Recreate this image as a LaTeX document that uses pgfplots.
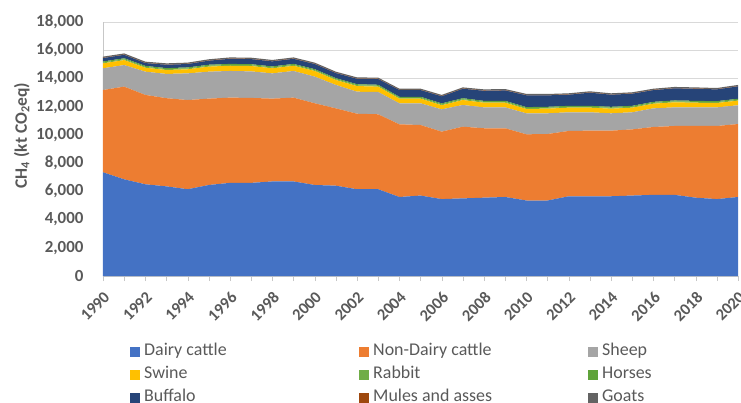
\documentclass[border=0pt]{standalone}
\usepackage{fontspec}
\setmainfont{Carlito}
\usepackage{pgfplots}
\usepackage{pgfplotstable}
\pgfplotsset{compat=1.18}
\usetikzlibrary{calc}
\definecolor{cDairy}{HTML}{4472C4}
\definecolor{cNonDairy}{HTML}{ED7D31}
\definecolor{cSheep}{HTML}{A5A5A5}
\definecolor{cSwine}{HTML}{FFC000}
\definecolor{cRabbit}{HTML}{70AD47}
\definecolor{cHorses}{HTML}{5FA33A}
\definecolor{cBuffalo}{HTML}{264478}
\definecolor{cMules}{HTML}{9E480E}
\definecolor{cGoats}{HTML}{636363}
\definecolor{txtgray}{HTML}{595959}
\definecolor{gridgray}{HTML}{D9D9D9}

% CH4 emissions by livestock category, kt CO2eq
\pgfplotstableread{
year dairy nondairy sheep swine rabbit horses buffalo mules goats
1990 7350 5830 1540 350 60 70 245 20 80
1991 6850 6570 1530 350 60 70 243 20 80
1992 6500 6330 1650 280 60 70 200 20 80
1993 6350 6250 1720 280 60 70 240 20 80
1994 6150 6320 1890 290 60 70 242 20 80
1995 6450 6120 1910 360 60 70 289 20 80
1996 6600 6040 1890 370 60 70 360 20 80
1997 6600 6020 1880 380 60 70 360 20 80
1998 6700 5870 1790 360 60 70 360 20 80
1999 6700 5940 1890 370 60 70 360 20 80
2000 6450 5790 1890 400 60 70 362 20 80
2001 6400 5480 1660 350 60 70 360 20 80
2002 6150 5350 1560 400 60 70 385 20 80
2003 6150 5310 1580 380 60 70 408 20 80
2004 5600 5150 1490 330 60 70 478 20 80
2005 5700 5000 1540 330 60 70 478 20 80
2006 5450 4780 1580 290 60 70 503 20 80
2007 5500 5080 1540 350 60 70 667 20 80
2008 5550 4920 1480 330 60 70 716 20 80
2009 5600 4870 1480 330 60 70 740 20 80
2010 5350 4690 1490 310 60 70 835 20 80
2011 5350 4710 1470 330 60 70 810 20 80
2012 5650 4630 1320 330 60 70 787 20 80
2013 5650 4650 1300 330 60 70 930 20 80
2014 5650 4650 1230 330 60 70 857 20 80
2015 5700 4690 1210 330 60 70 858 20 80
2016 5750 4810 1320 330 60 70 832 20 80
2017 5750 4880 1320 360 60 70 857 20 80
2018 5550 5080 1320 330 60 70 856 20 80
2019 5450 5180 1320 310 60 70 833 20 80
2020 5600 5170 1330 330 60 70 880 20 80
}\emissions

\newcommand{\legtext}[1]{\makebox[213bp][l]{#1}}

\begin{document}
\begin{tikzpicture}
\begin{axis}[
  name=main,
  scale only axis, width=635bp, height=254bp,
  xmin=1990, xmax=2020, ymin=0, ymax=18000,
  stack plots=y,
  axis x line*=bottom, axis y line*=left,
  axis line style={gridgray!80!gray},
  xtick={1990,1992,...,2020}, minor xtick={1991,1993,...,2019},
  tick align=outside, major tick length=5bp, minor tick length=5bp,
  xtick style={gridgray!80!gray}, minor tick style={gridgray!80!gray},
  ytick={0,2000,...,18000}, ytick style={draw=none},
  ymajorgrids, grid style={gridgray, line width=0.8pt},
  scaled y ticks=false,
  xticklabel={\pgfmathprintnumber[assume math mode=true,1000 sep={}]{\tick}},
  yticklabel={\pgfmathprintnumber[assume math mode=true,1000 sep={,}]{\tick}},
  xticklabel shift=8bp,
  x tick label style={rotate=45, anchor=north east,
    font=\fontsize{16.5}{19}\selectfont\bfseries, text=txtgray, inner sep=1bp},
  y tick label style={font=\fontsize{17}{20}\selectfont\bfseries, text=txtgray,
    xshift=-11bp},
  ylabel={CH\textsubscript{4} (kt CO\textsubscript{2}eq)},
  every axis y label/.style={at={(axis description cs:-0.128,0.553)}, rotate=90,
    anchor=center, font=\fontsize{17.5}{20}\selectfont\bfseries, text=txtgray},
  legend image code/.code={\fill[#1,draw=none] (0bp,-5bp) rectangle (10bp,5bp);},
  legend style={at={(axis description cs:0.0425,-0.258)}, anchor=north west,
    draw=none, fill=none,
    legend columns=3, font=\fontsize{18}{21}\selectfont, text=txtgray,
    row sep=3bp, inner sep=0pt,
    nodes={inner xsep=2bp, inner ysep=1bp, text height=13bp, text depth=5bp},
    /tikz/every odd column/.append style={column sep=2bp}},
  legend cell align=left,
]
\addplot[fill=cDairy, draw=none] table[x=year, y=dairy] {\emissions} \closedcycle;
\addlegendentry{\legtext{Dairy cattle}}
\addplot[fill=cNonDairy, draw=none] table[x=year, y=nondairy] {\emissions} \closedcycle;
\addlegendentry{\legtext{Non-Dairy cattle}}
\addplot[fill=cSheep, draw=none] table[x=year, y=sheep] {\emissions} \closedcycle;
\addlegendentry{Sheep}
\addplot[fill=cSwine, draw=none] table[x=year, y=swine] {\emissions} \closedcycle;
\addlegendentry{\legtext{Swine}}
\addplot[fill=cRabbit, draw=none] table[x=year, y=rabbit] {\emissions} \closedcycle;
\addlegendentry{\legtext{Rabbit}}
\addplot[fill=cHorses, draw=none] table[x=year, y=horses] {\emissions} \closedcycle;
\addlegendentry{Horses}
\addplot[fill=cBuffalo, draw=none] table[x=year, y=buffalo] {\emissions} \closedcycle;
\addlegendentry{\legtext{Buffalo}}
\addplot[fill=cMules, draw=none] table[x=year, y=mules] {\emissions} \closedcycle;
\addlegendentry{\legtext{Mules and asses}}
\addplot[fill=cGoats, draw=none] table[x=year, y=goats] {\emissions} \closedcycle;
\addlegendentry{Goats}
\end{axis}
\pgfresetboundingbox
\path[use as bounding box] ($(main.south west)+(-103bp,-127bp)$) rectangle ($(main.north east)+(3bp,22bp)$);
\end{tikzpicture}
\end{document}
